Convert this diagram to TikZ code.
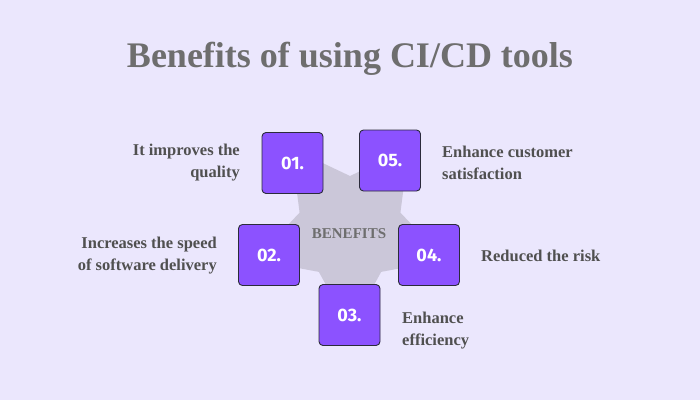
\documentclass[tikz,border=0pt]{standalone}
\usepackage{fontspec}
\setmainfont{Liberation Serif}
\newfontfamily\numfont{Fira Sans}
\begin{document}
\begin{tikzpicture}[x=1pt, y=-1pt, line cap=round, line join=round,
    numbox/.style={draw=boxline, line width=0.9pt, fill=boxpurple, rounded corners=4pt,
      minimum size=61pt, inner sep=0pt, text=white, font=\numfont\bfseries\fontsize{18}{18}\selectfont},
    benefit/.style={text=labelgray, font=\bfseries\fontsize{16.5}{22}\selectfont, inner sep=0pt}]
  \definecolor{bgpurple}{RGB}{235,231,253}
  \definecolor{stargray}{RGB}{203,199,217}
  \definecolor{boxpurple}{RGB}{140,82,255}
  \definecolor{boxline}{RGB}{43,43,59}
  \definecolor{titlegray}{RGB}{110,110,110}
  \definecolor{labelgray}{RGB}{80,80,80}
  \fill[bgpurple] (0,0) rectangle (700,400);
  \node[text=titlegray, font=\bfseries\fontsize{36}{40}\selectfont, anchor=base] (title) at (350,67) {Benefits of using CI/CD tools};
  \fill[stargray, shift={(350,229)}] (234:100) -- (270:53) -- (306:100) -- (342:53) -- (18:100)
    -- (54:53) -- (90:100) -- (126:53) -- (162:100) -- (198:53) -- cycle;
  \node[text=titlegray, font=\bfseries\fontsize{15}{15}\selectfont] (hub) at (349,233.5) {BENEFITS};
  \node[numbox] (n1) at (292.5,163) {01.};
  \node[numbox] (n5) at (390,160.5) {05.};
  \node[numbox] (n2) at (269,255) {02.};
  \node[numbox] (n4) at (429,255) {04.};
  \node[numbox] (n3) at (349.5,315) {03.};
  \node[benefit, align=right, anchor=east] (t1) at (240,163) {It improves the\\quality};
  \node[benefit, align=right, anchor=east] (t2) at (217,256) {Increases the speed\\of software delivery};
  \node[benefit, align=left, anchor=west] (t5) at (442,163) {Enhance customer\\satisfaction};
  \node[benefit, anchor=west] (t4) at (481,256) {Reduced the risk};
  \node[benefit, align=left, anchor=west] (t3) at (402,331) {Enhance\\efficiency};
\end{tikzpicture}
\end{document}
